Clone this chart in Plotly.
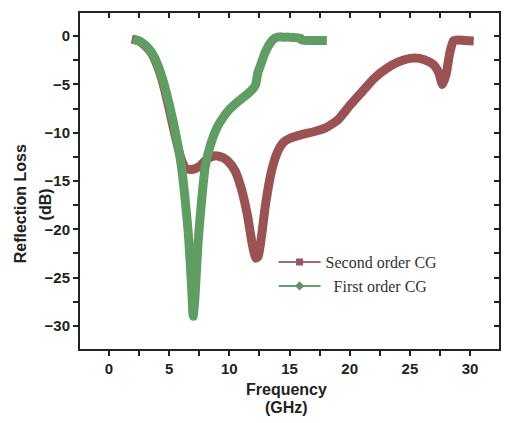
import plotly.graph_objects as go

# Frequency (GHz) and reflection loss (dB) for each coating
freq_first = [2.0, 2.5, 3.0, 3.5, 4.0, 4.5, 5.0, 5.5, 6.0, 6.3, 6.6, 6.85, 7.0, 7.15, 7.4, 7.7,
              8.0, 8.5, 9.0, 9.5, 10.0, 10.5, 11.0, 11.5, 12.0, 12.2, 12.35, 12.6, 13.0, 13.4,
              13.8, 14.0, 14.5, 15.0, 15.5, 15.9, 16.0, 16.5, 17.0, 17.5, 18.1]
rl_first = [-0.3, -0.5, -0.9, -1.6, -2.8, -4.6, -7.0, -9.8, -13.3, -16.5, -20.5, -25.5, -29.0,
            -27.0, -21.5, -17.0, -13.5, -11.0, -9.4, -8.4, -7.6, -7.0, -6.5, -6.0, -5.4, -5.0,
            -3.9, -3.0, -1.6, -0.7, -0.2, -0.1, -0.1, -0.1, -0.15, -0.2, -0.4, -0.45, -0.45,
            -0.45, -0.45]

freq_second = [1.9, 2.5, 3.0, 3.5, 4.0, 4.5, 5.0, 5.5, 6.0, 6.4, 6.8, 7.2, 7.6, 8.0, 8.5, 9.0,
               9.5, 10.0, 10.5, 11.0, 11.5, 11.9, 12.2, 12.4, 12.7, 13.0, 13.5, 14.0, 14.5,
               15.0, 16.0, 17.0, 18.0, 19.0, 20.0, 21.0, 22.0, 23.0, 24.0, 25.0, 25.8, 26.5,
               27.0, 27.4, 27.7, 28.0, 28.3, 28.6, 29.0, 29.5, 30.3]
rl_second = [-0.3, -0.5, -1.0, -1.7, -3.0, -4.9, -7.5, -10.3, -12.7, -13.7, -13.8, -13.7, -13.4,
             -12.9, -12.5, -12.4, -12.6, -13.1, -14.0, -15.8, -18.5, -21.5, -23.0, -22.8,
             -20.5, -17.5, -14.0, -12.0, -11.0, -10.6, -10.2, -9.9, -9.5, -8.7, -7.2, -5.8,
             -4.4, -3.4, -2.7, -2.3, -2.3, -2.6, -3.0, -3.8, -5.0, -4.0, -1.8, -0.5, -0.4,
             -0.45, -0.5]

x_ticks = [0, 5, 10, 15, 20, 25, 30]
y_ticks = [0, -5, -10, -15, -20, -25, -30]

RED = "#9b5253"
GREEN = "#5f9d62"
AXIS = "#222222"

fig = go.Figure()

fig.add_trace(go.Scatter(x=freq_second, y=rl_second, mode="lines",
                         line=dict(color=RED, width=9, shape="spline", smoothing=0.5),
                         showlegend=False))
fig.add_trace(go.Scatter(x=freq_first, y=rl_first, mode="lines",
                         line=dict(color=GREEN, width=9, shape="spline", smoothing=0.5),
                         showlegend=False))

# Legend entries: thin line with a small marker
fig.add_trace(go.Scatter(x=[None], y=[None], mode="lines+markers", name="Second order CG",
                         line=dict(color="#a06a72", width=2),
                         marker=dict(symbol="square", size=7, color="#8f5a62")))
fig.add_trace(go.Scatter(x=[None], y=[None], mode="lines+markers",
                         name="\u00a0\u00a0First order CG",
                         line=dict(color="#6c9c6c", width=2),
                         marker=dict(symbol="diamond", size=7, color="#5f9162")))

# Invisible trace so the mirrored top/right axes are drawn
fig.add_trace(go.Scatter(x=[None], y=[None], xaxis="x2", yaxis="y2", showlegend=False,
                         hoverinfo="skip"))

tick_font = dict(family="Liberation Sans, Arial", size=15, color="#222222", weight="bold")

fig.update_layout(
    width=523, height=423,
    margin=dict(l=80, r=24, t=13, b=74),
    paper_bgcolor="white", plot_bgcolor="white",
    xaxis=dict(range=[-2.4, 32.4], tickvals=x_ticks, ticks="outside", ticklen=5,
               tickwidth=1.5, tickcolor=AXIS, showline=True, linewidth=2, linecolor=AXIS,
               showgrid=False, zeroline=False, tickfont=tick_font,
               minor=dict(dtick=2.5, tick0=0, ticks="outside", ticklen=5, tickwidth=1.5,
                          tickcolor=AXIS, showgrid=False)),
    yaxis=dict(range=[-32.4, 2.4], tickvals=y_ticks, ticks="outside", ticklen=5,
               tickwidth=1.5, tickcolor=AXIS, showline=True, linewidth=2, linecolor=AXIS,
               showgrid=False, zeroline=False, tickfont=tick_font,
               minor=dict(dtick=2.5, tick0=0, ticks="outside", ticklen=5, tickwidth=1.5,
                          tickcolor=AXIS, showgrid=False)),
    xaxis2=dict(range=[-2.4, 32.4], overlaying="x", side="top", anchor="y",
                tickvals=x_ticks, ticks="inside", ticklen=5, tickwidth=1.5, tickcolor=AXIS,
                showticklabels=False, showline=True, linewidth=2, linecolor=AXIS,
                showgrid=False, zeroline=False,
                minor=dict(dtick=2.5, tick0=0, ticks="inside", ticklen=5, tickwidth=1.5,
                           tickcolor=AXIS, showgrid=False)),
    yaxis2=dict(range=[-32.4, 2.4], overlaying="y", side="right", anchor="x",
                tickvals=y_ticks, ticks="inside", ticklen=5, tickwidth=1.5, tickcolor=AXIS,
                showticklabels=False, showline=True, linewidth=2, linecolor=AXIS,
                showgrid=False, zeroline=False,
                minor=dict(dtick=2.5, tick0=0, ticks="inside", ticklen=5, tickwidth=1.5,
                           tickcolor=AXIS, showgrid=False)),
    legend=dict(x=0.462, y=0.309, xanchor="left", yanchor="top",
                bgcolor="rgba(0,0,0,0)", borderwidth=0,
                font=dict(family="Liberation Serif, Times New Roman", size=16, color="#333333"),
                itemwidth=42, tracegroupgap=0),
)

title_font = dict(family="Liberation Sans, Arial", size=16, color="#222222", weight="bold")
fig.add_annotation(text="Reflection Loss", textangle=-90, xref="paper", yref="paper",
                   x=-0.143, y=0.431, xanchor="center", yanchor="middle",
                   showarrow=False, font=title_font)
fig.add_annotation(text="(dB)", textangle=-90, xref="paper", yref="paper",
                   x=-0.083, y=0.431, xanchor="center", yanchor="middle",
                   showarrow=False, font=title_font)
fig.add_annotation(text="Frequency", xref="paper", yref="paper",
                   x=0.494, y=-0.122, xanchor="center", yanchor="middle",
                   showarrow=False, font=title_font)
fig.add_annotation(text="(GHz)", xref="paper", yref="paper",
                   x=0.494, y=-0.173, xanchor="center", yanchor="middle",
                   showarrow=False, font=title_font)

fig.write_html("out.html")
